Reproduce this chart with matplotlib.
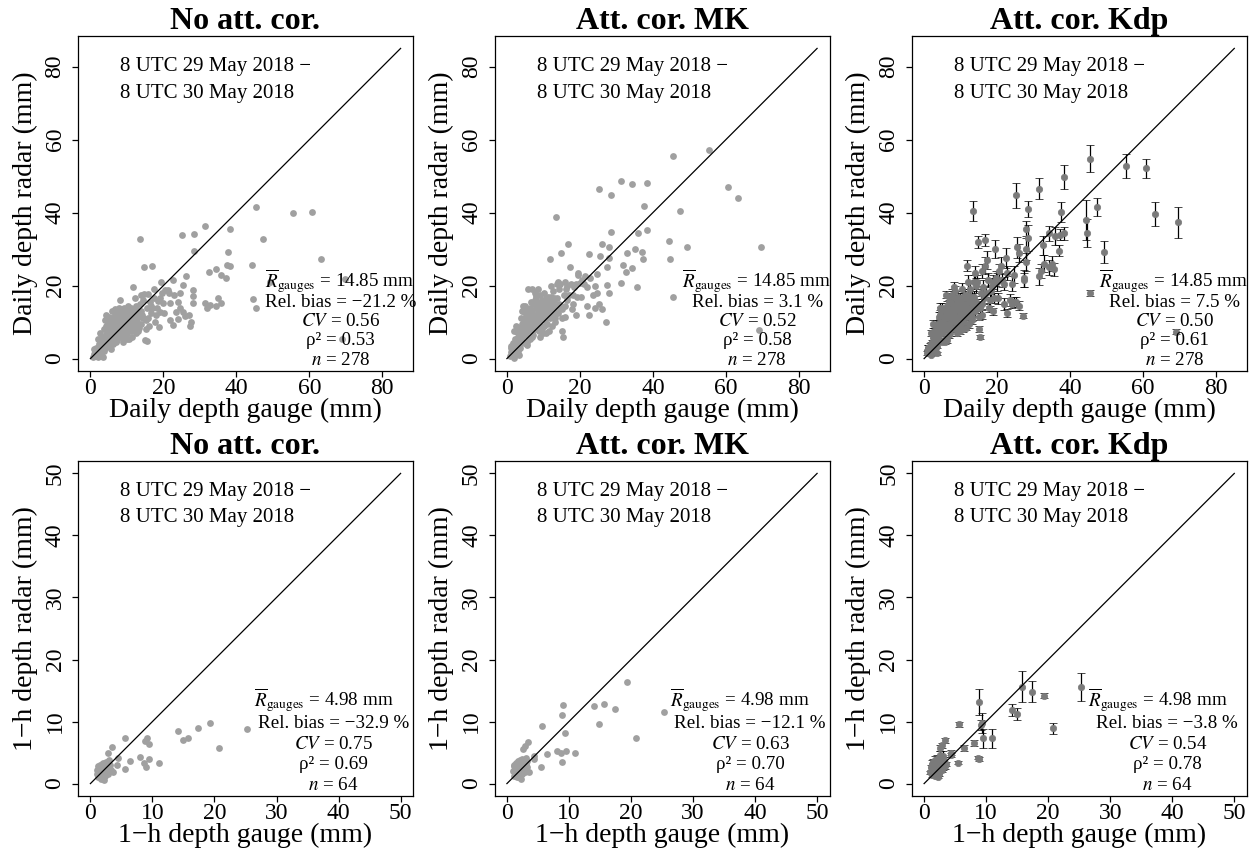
import matplotlib
matplotlib.use("Agg")
from matplotlib import pyplot as plt

plt.rcParams["font.family"] = ["Liberation Serif", "DejaVu Serif"]
plt.rcParams["mathtext.fontset"] = "stix"

# ---- daily depths (mm), one entry per gauge ----
daily_gauge = [0.8, 1.0, 1.2, 1.3, 1.5, 1.6, 1.8, 2.0, 2.1, 2.3,
               2.4, 2.5, 2.6, 2.7, 2.8, 3.0, 3.1, 3.2, 3.4, 3.5,
               3.6, 3.7, 3.8, 4.0, 4.1, 4.2, 4.4, 4.5, 4.6, 4.8,
               5.0, 5.1, 5.2, 5.3, 5.5, 5.6, 5.7, 5.8, 5.9, 6.0,
               6.1, 6.2, 6.3, 6.4, 6.5, 6.6, 6.8, 6.9, 7.0, 7.1,
               7.2, 7.3, 7.4, 7.5, 7.6, 7.8, 7.9, 8.0, 8.1, 8.2,
               8.3, 8.4, 8.5, 8.6, 8.8, 8.9, 9.0, 9.1, 9.2, 9.3,
               9.4, 9.5, 9.6, 9.7, 9.8, 10.0, 10.1, 10.2, 10.3, 10.4,
               10.5, 10.6, 10.7, 10.8, 10.9, 11.0, 11.1, 11.2, 11.4, 11.5,
               11.6, 11.7, 11.8, 11.9, 12.0, 12.2, 12.3, 12.5, 12.6, 12.8,
               12.9, 13.0, 13.2, 13.4, 13.5, 13.7, 13.9, 14.0, 14.2, 14.5,
               14.6, 14.8, 15.0, 15.2, 15.4, 15.6, 15.8, 16.0, 16.2, 16.5,
               16.8, 17.0, 17.3, 17.5, 17.8, 18.2, 18.5, 18.8, 19.1, 19.4,
               19.6, 20.0, 20.5, 21.2, 21.4, 21.9, 21.9, 22.5, 22.6, 22.8,
               23.5, 24.1, 24.1, 24.6, 24.6, 25.2, 25.3, 25.5, 26.0, 26.1,
               27.1, 27.3, 27.5, 28.0, 28.0, 28.0, 28.4, 28.5, 31.4, 31.4,
               31.9, 32.6, 32.9, 34.3, 34.3, 35.1, 35.7, 35.8, 37.1, 37.3,
               37.6, 38.3, 38.3, 44.4, 44.6, 45.5, 45.5, 47.4, 49.3, 55.4,
               60.7, 63.3, 69.0, 69.7,
               1.1, 1.7, 2.2, 2.9, 3.3, 3.9, 4.3, 4.7, 5.4, 6.7,
               7.7, 8.7, 9.9, 10.6, 11.3, 12.4, 5.6, 6.9, 7.9, 9.2,
               2.0, 3.0, 4.0, 5.0, 6.0, 7.0, 8.0, 9.0, 10.0, 11.0,
               12.1, 13.1, 13.8, 14.3, 15.1, 15.9, 16.6, 18.0, 19.0, 20.2]

daily_nocor = [0.5, 1.2, 2.0, 0.8, 1.5, 3.0, 2.2, 0.3, 1.0, 4.0,
               2.5, 7.0, 3.2, 1.8, 5.0, 2.8, 4.2, 6.0, 0.5, 3.5,
               2.0, 5.5, 8.0, 4.0, 3.0, 6.5, 12.0, 5.0, 7.5, 3.5,
               6.0, 4.5, 9.0, 7.0, 3.2, 10.5, 5.5, 8.0, 13.0, 6.5,
               8.5, 4.0, 11.0, 7.5, 5.8, 9.5, 13.5, 6.5, 10.0, 8.0,
               5.0, 9.0, 11.5, 7.0, 12.5, 8.5, 6.0, 10.5, 16.0, 9.0,
               11.0, 7.5, 13.0, 9.5, 6.0, 10.0, 12.0, 8.0, 14.0, 10.5,
               8.5, 11.5, 6.5, 13.0, 9.5, 12.0, 7.0, 10.5, 14.5, 8.0,
               11.0, 5.5, 13.5, 9.0, 12.0, 7.5, 10.0, 14.0, 6.0, 11.5,
               9.5, 12.5, 19.5, 8.0, 13.5, 10.5, 11.5, 14.5, 9.0, 12.0,
               10.0, 13.0, 8.5, 11.5, 32.9, 15.0, 9.5, 17.5, 12.0, 11.0,
               17.7, 25.2, 5.1, 10.5, 4.7, 14.0, 17.7, 9.0, 15.5, 12.5,
               25.4, 13.8, 19.0, 16.5, 10.0, 13.8, 15.9, 8.6, 12.9, 21.1,
               18.1, 15.3, 18.8, 18.9, 17.9, 15.1, 10.6, 21.4, 9.2, 17.5,
               12.9, 15.6, 10.8, 18.1, 13.8, 33.8, 12.9, 20.2, 11.7, 22.6,
               12.0, 8.8, 9.9, 15.1, 17.2, 18.8, 29.6, 34.1, 36.4, 15.1,
               13.8, 23.8, 14.7, 24.5, 14.4, 16.7, 15.1, 22.8, 22.0, 25.6,
               29.3, 35.5, 25.4, 25.6, 16.2, 41.6, 13.8, 32.9, 21.0, 39.8,
               40.2, 27.3, 5.5, 21.9,
               2.5, 0.8, 3.0, 1.2, 2.5, 5.0, 9.0, 10.0, 7.5, 12.0,
               14.0, 11.5, 5.5, 12.5, 9.5, 7.0, 2.5, 4.5, 13.0, 7.0,
               5.5, 1.5, 10.5, 11.5, 10.0, 5.5, 8.0, 4.5, 11.0, 13.0,
               16.5, 7.5, 13.0, 16.0, 8.0, 11.0, 14.5, 12.0, 16.5, 12.5]

daily_mk = [0.8, 1.8, 2.8, 1.5, 2.4, 4.2, 3.5, 0.2, 1.8, 5.5,
            3.5, 9.0, 4.5, 2.5, 7.2, 3.8, 6.0, 8.5, 1.0, 5.2,
            3.0, 8.0, 11.0, 6.0, 4.5, 9.5, 14.5, 7.0, 10.5, 4.2,
            8.5, 6.5, 12.0, 10.0, 4.5, 13.5, 7.5, 10.5, 19.0, 9.0,
            11.5, 5.5, 14.0, 10.5, 8.0, 12.5, 19.0, 9.0, 13.0, 11.0,
            6.5, 12.0, 15.0, 9.5, 16.0, 11.0, 8.0, 14.0, 17.0, 12.0,
            14.0, 10.0, 19.0, 12.5, 7.5, 13.5, 15.5, 10.5, 17.5, 13.0,
            11.0, 14.5, 8.5, 16.0, 12.5, 15.0, 9.0, 13.5, 18.0, 10.5,
            14.0, 7.0, 16.5, 12.0, 15.5, 9.5, 13.0, 17.0, 7.5, 14.5,
            12.5, 16.0, 27.3, 11.0, 17.0, 13.5, 15.0, 18.5, 12.0, 16.0,
            13.0, 16.5, 11.0, 14.5, 38.8, 20.5, 12.5, 21.0, 15.0, 14.0,
            20.5, 28.8, 7.5, 13.5, 5.8, 17.5, 21.0, 11.5, 19.0, 16.0,
            31.4, 17.5, 25.0, 20.5, 13.5, 17.5, 19.5, 12.0, 17.0, 23.5,
            23.0, 20.6, 21.4, 20.4, 22.5, 19.7, 14.5, 28.6, 12.0, 22.0,
            17.5, 20.0, 14.0, 23.1, 18.0, 46.5, 15.0, 28.1, 13.5, 31.4,
            10.1, 20.2, 25.2, 18.1, 27.6, 30.7, 34.6, 44.8, 48.6, 20.6,
            25.6, 23.6, 28.8, 47.8, 24.9, 29.9, 19.5, 34.3, 29.1, 27.3,
            41.9, 48.2, 35.2, 32.3, 27.3, 55.4, 17.0, 40.4, 30.6, 57.2,
            47.0, 44.0, 7.8, 30.6,
            3.5, 1.2, 4.0, 2.0, 3.5, 7.0, 13.0, 13.5, 11.0, 15.5,
            18.0, 15.0, 7.0, 16.0, 12.5, 9.0, 3.8, 6.0, 17.5, 9.0,
            7.5, 2.2, 13.0, 14.5, 13.0, 7.5, 10.5, 6.0, 14.0, 16.0,
            20.0, 10.0, 16.5, 19.0, 11.0, 14.5, 20.0, 15.0, 20.5, 17.0]

daily_kdp = [1.5, 2.0, 3.0, 2.5, 2.8, 3.5, 4.0, 1.0, 2.5, 6.0,
             3.2, 9.5, 5.0, 2.8, 7.5, 4.0, 6.5, 8.8, 1.5, 5.5,
             3.5, 8.0, 9.5, 6.5, 5.0, 9.0, 14.0, 8.0, 10.0, 4.5,
             9.0, 7.0, 11.5, 10.0, 5.0, 13.0, 8.0, 11.0, 17.5, 9.5,
             12.0, 5.0, 14.5, 11.0, 8.0, 13.0, 17.0, 9.5, 13.5, 11.5,
             7.0, 12.5, 15.5, 10.0, 15.0, 11.5, 8.5, 14.0, 19.5, 12.0,
             14.5, 10.0, 18.5, 13.0, 8.0, 13.5, 16.0, 11.0, 17.0, 14.0,
             11.5, 15.0, 9.0, 16.5, 12.5, 15.5, 9.5, 14.0, 19.0, 11.0,
             14.5, 8.0, 17.0, 12.0, 15.0, 10.0, 13.5, 17.5, 8.5, 15.0,
             13.0, 16.5, 25.5, 11.5, 17.5, 14.0, 15.5, 19.0, 12.5, 16.0,
             13.5, 17.0, 11.5, 15.0, 40.5, 21.0, 13.0, 23.5, 15.5, 14.5,
             21.0, 32.0, 8.0, 14.0, 6.0, 18.0, 24.0, 12.0, 19.5, 16.5,
             32.5, 18.0, 27.0, 21.5, 14.0, 18.5, 20.0, 13.0, 16.5, 30.0,
             22.0, 21.0, 24.0, 25.5, 21.5, 20.5, 15.0, 27.5, 12.5, 23.5,
             16.0, 20.5, 15.0, 23.0, 15.5, 44.8, 15.5, 30.5, 14.5, 29.0,
             11.8, 21.5, 22.0, 26.5, 30.0, 35.6, 33.0, 41.0, 46.6, 22.5,
             24.0, 31.0, 26.0, 34.3, 25.0, 26.0, 24.5, 33.5, 29.5, 34.0,
             40.1, 49.8, 34.3, 38.0, 34.5, 54.8, 17.9, 41.6, 29.1, 52.8,
             52.1, 39.5, 7.4, 37.3,
             3.0, 1.8, 4.5, 2.2, 3.8, 7.5, 12.0, 13.0, 11.5, 15.5,
             17.5, 15.0, 7.5, 16.5, 13.0, 9.5, 4.5, 6.5, 17.0, 9.5,
             7.0, 2.5, 11.5, 14.0, 12.5, 8.0, 10.5, 7.0, 14.5, 16.5,
             21.0, 10.5, 17.0, 20.0, 11.5, 15.0, 25.5, 16.0, 21.0, 16.5]

daily_kdp_err = [0.5, 0.6, 0.6, 0.5, 0.6, 0.7, 0.6, 0.4, 0.5, 0.8,
                 0.6, 1.0, 0.7, 0.5, 0.8, 0.6, 0.8, 1.0, 0.4, 0.7,
                 0.5, 0.9, 1.0, 0.8, 0.6, 1.0, 1.2, 0.8, 1.0, 0.5,
                 1.0, 0.8, 1.2, 1.0, 0.6, 1.2, 0.8, 1.0, 1.0, 1.0,
                 1.0, 0.6, 1.2, 1.0, 0.8, 1.2, 1.0, 0.8, 1.2, 1.0,
                 0.8, 1.2, 1.4, 1.0, 1.2, 1.2, 0.8, 1.2, 1.4, 1.2,
                 1.2, 1.0, 1.5, 1.2, 0.8, 1.2, 1.4, 1.0, 1.5, 1.2,
                 1.0, 1.4, 0.8, 1.6, 1.2, 1.4, 1.0, 1.2, 1.6, 1.0,
                 1.4, 0.8, 1.6, 1.2, 1.4, 1.0, 1.2, 1.6, 0.8, 1.4,
                 1.2, 1.6, 1.4, 1.0, 1.6, 1.4, 1.4, 1.8, 1.2, 1.6,
                 1.4, 1.6, 1.2, 1.4, 2.8, 2.0, 1.2, 2.0, 1.6, 1.4,
                 2.0, 1.6, 0.8, 1.4, 0.6, 1.8, 2.0, 1.2, 2.0, 1.6,
                 1.6, 1.8, 2.4, 2.0, 1.2, 1.6, 2.0, 1.0, 1.4, 2.4,
                 2.0, 2.4, 2.0, 2.4, 2.0, 1.8, 1.6, 2.8, 1.2, 2.0,
                 1.6, 2.0, 1.2, 2.4, 1.4, 3.4, 1.4, 2.8, 1.2, 2.4,
                 0.6, 2.0, 2.4, 2.4, 3.0, 2.0, 3.5, 2.1, 3.0, 2.4,
                 2.0, 2.6, 2.4, 2.0, 2.0, 2.0, 1.8, 2.5, 1.5, 1.5,
                 2.7, 3.3, 1.8, 5.5, 3.8, 3.8, 0.8, 2.4, 3.0, 3.2,
                 2.7, 3.3, 0.6, 4.3,
                 0.6, 0.5, 0.7, 0.5, 0.6, 0.9, 1.2, 1.2, 1.2, 1.4,
                 1.6, 1.4, 0.8, 1.6, 1.2, 1.0, 0.6, 0.8, 1.6, 1.0,
                 0.8, 0.5, 1.2, 1.2, 1.2, 0.8, 1.0, 0.8, 1.4, 1.6,
                 2.0, 1.0, 1.6, 2.0, 1.0, 1.4, 2.4, 1.6, 2.0, 1.6]

# ---- 1-h depths (mm) ----
hourly_gauge = [25.3, 19.3, 17.4, 15.7, 14.9, 14.1, 20.8, 11.0, 9.5, 9.4,
                9.1, 8.8, 8.7, 8.9, 8.0, 5.6, 6.4, 5.5, 4.3, 4.4,
                3.4, 2.9, 3.6, 2.6,
                1.0, 1.1, 1.2, 1.2, 1.3, 1.4, 1.4, 1.5, 1.5, 1.6,
                1.6, 1.7, 1.7, 1.8, 1.8, 1.9, 1.9, 2.0, 2.0, 2.1,
                2.1, 2.2, 2.2, 2.3, 2.3, 2.4, 2.4, 2.5, 2.5, 2.6,
                2.7, 2.7, 2.8, 2.9, 3.0, 3.0, 3.1, 3.2, 3.3, 2.0]

hourly_nocor = [8.8, 9.7, 9.0, 7.3, 7.0, 8.5, 5.8, 3.4, 3.9, 6.4,
                7.3, 6.9, 3.4, 2.6, 4.3, 7.3, 3.7, 2.4, 3.0, 4.1,
                5.9, 5.0, 1.8, 3.3,
                1.5, 2.2, 1.0, 2.8, 1.8, 2.5, 1.2, 3.0, 2.0, 1.5,
                2.6, 0.8, 2.2, 3.2, 1.8, 2.4, 1.0, 2.9, 1.6, 3.4,
                2.0, 0.6, 2.7, 1.5, 3.0, 2.2, 1.2, 3.5, 2.5, 1.8,
                2.9, 2.0, 3.2, 1.5, 2.6, 3.8, 2.0, 3.0, 2.2, 0.9]

hourly_mk = [11.6, 16.3, 12.0, 12.8, 9.6, 12.5, 7.3, 4.9, 5.3, 8.1,
             12.7, 11.1, 5.0, 3.5, 5.3, 9.3, 4.8, 2.7, 3.9, 4.5,
             6.7, 6.0, 1.9, 5.5,
             2.0, 2.8, 1.3, 3.0, 2.4, 3.2, 1.6, 3.3, 2.5, 1.8,
             3.0, 1.0, 2.6, 3.6, 2.2, 2.9, 1.3, 3.4, 2.0, 3.8,
             2.4, 0.8, 3.2, 1.8, 3.5, 2.6, 1.5, 4.0, 3.0, 2.2,
             3.4, 2.4, 3.8, 1.9, 3.1, 4.2, 2.4, 3.6, 2.6, 1.1]

hourly_kdp = [15.6, 14.2, 14.8, 15.6, 11.2, 11.9, 8.9, 7.3, 7.3, 9.7,
              9.5, 13.2, 4.2, 4.0, 6.5, 9.6, 5.7, 3.4, 4.6, 5.0,
              7.0, 6.2, 3.2, 5.8,
              1.8, 2.6, 1.4, 3.2, 2.2, 3.0, 1.5, 3.5, 2.4, 1.7,
              3.0, 1.2, 2.5, 3.8, 2.0, 2.8, 1.4, 3.3, 2.0, 4.0,
              2.5, 1.1, 3.0, 1.9, 3.6, 2.6, 1.6, 4.6, 3.0, 2.3,
              3.4, 2.6, 3.9, 2.2, 3.2, 4.5, 2.6, 3.8, 2.8, 1.3]

hourly_kdp_err = [2.3, 0.4, 1.7, 2.5, 1.0, 1.0, 0.9, 1.5, 1.5, 1.6,
                  0.8, 2.1, 0.3, 0.3, 0.5, 0.4, 0.5, 0.2, 0.3, 0.4,
                  0.4, 0.4, 0.3, 0.5,
                  0.3, 0.4, 0.3, 0.6, 0.3, 0.4, 0.3, 0.5, 0.4, 0.3,
                  0.5, 0.2, 0.4, 0.6, 0.3, 0.4, 0.2, 0.5, 0.3, 0.6,
                  0.4, 0.2, 0.5, 0.3, 0.5, 0.4, 0.3, 0.7, 0.4, 0.3,
                  0.5, 0.4, 0.6, 0.3, 0.4, 0.7, 0.4, 0.5, 0.4, 0.2]

panel_titles = ["No att. cor.", "Att. cor. MK", "Att. cor. Kdp"]
period_lines = ["8 UTC 29 May 2018 \u2212", "8 UTC 30 May 2018"]
daily_stats = [("14.85", "\u221221.2", "0.56", "0.53", "278"),
               ("14.85", "3.1", "0.52", "0.58", "278"),
               ("14.85", "7.5", "0.50", "0.61", "278")]
hourly_stats = [("4.98", "\u221232.9", "0.75", "0.69", "64"),
                ("4.98", "\u221212.1", "0.63", "0.70", "64"),
                ("4.98", "\u22123.8", "0.54", "0.78", "64")]

W, H = 1257, 849
fig = plt.figure(figsize=(W / 100, H / 100), dpi=100)

colLeft = [78, 494.5, 911.7]
rowTop = [36, 461]
axSize = 335


def make_ax(col, row):
    return fig.add_axes([colLeft[col] / W, (H - rowTop[row] - axSize) / H, axSize / W, axSize / H])


def style_ax(ax, lim, ticks, xlabel, ylabel, title):
    ax.set_xlim(-0.04 * lim, 1.04 * lim)
    ax.set_ylim(-0.04 * lim, 1.04 * lim)
    ax.set_xticks(ticks)
    ax.set_yticks(ticks)
    ax.tick_params(direction="out", length=4.5, width=0.9, labelsize=17, color="black")
    ax.tick_params(axis="x", pad=0.5)
    ax.tick_params(axis="y", pad=4.5)
    for lab in ax.get_yticklabels():
        lab.set_rotation(90)
        lab.set_va("center")
    for sp in ax.spines.values():
        sp.set_linewidth(0.9)
    ax.set_xlabel(xlabel, fontsize=20, labelpad=-1)
    ax.set_ylabel(ylabel, fontsize=20, labelpad=5)
    ax.set_title(title, fontsize=23, fontweight="bold", pad=3)
    ax.plot([0, lim], [0, lim], color="black", lw=0.9, zorder=3)


def add_text(ax, lim, period_y, period_x, stats_x, stats_y, stats):
    for txt, yy in zip(period_lines, period_y):
        ax.text(period_x, yy, txt, fontsize=15, ha="left", va="baseline")
    rmean, bias, cv, rho, n = stats
    lines = [r"$\overline{R}_{\mathrm{gauges}}$ = " + rmean + " mm",
             "Rel. bias = " + bias + " %",
             r"$CV$ = " + cv,
             "\u03c1\u00b2 = " + rho,
             r"$n$ = " + n]
    for i, (txt, yy) in enumerate(zip(lines, stats_y)):
        xx = stats_x[0] if i == 0 else stats_x[1]
        ax.text(xx, yy, txt, fontsize=13.7, ha="center", va="baseline", zorder=5)


def draw_kdp(ax, x, y, err):
    ax.errorbar(x, y, yerr=err, fmt="o", color="#7a7a7a", ms=4.6, mec="#7a7a7a", mew=0.5,
                ecolor="black", elinewidth=0.9, capsize=2.8, capthick=0.9, zorder=2)


daily_radar = [daily_nocor, daily_mk, daily_kdp]
hourly_radar = [hourly_nocor, hourly_mk, hourly_kdp]

for col in range(3):
    # daily
    ax = make_ax(col, 0)
    style_ax(ax, 85, [0, 20, 40, 60, 80], "Daily depth gauge (mm)", "Daily depth radar (mm)", panel_titles[col])
    if col < 2:
        ax.plot(daily_gauge, daily_radar[col], "o", color="#a0a0a0", ms=4.9, mew=0, zorder=2)
    else:
        draw_kdp(ax, daily_gauge, daily_kdp, daily_kdp_err)
    add_text(ax, 85, [78.7, 71.5], 8.2, (68.3, 68.6), [19.5, 14.1, 8.8, 3.6, -1.7], daily_stats[col])

    # hourly
    ax = make_ax(col, 1)
    style_ax(ax, 50, [0, 10, 20, 30, 40, 50], "1\u2212h depth gauge (mm)", "1\u2212h depth radar (mm)", panel_titles[col])
    if col < 2:
        ax.plot(hourly_gauge, hourly_radar[col], "o", color="#a0a0a0", ms=4.9, mew=0, zorder=2)
    else:
        draw_kdp(ax, hourly_gauge, hourly_kdp, hourly_kdp_err)
    add_text(ax, 50, [46.3, 42.1], 4.8, (37.6, 39.2), [12.4, 8.9, 5.6, 2.3, -1.0], hourly_stats[col])

fig.savefig("out.png", dpi=100)
